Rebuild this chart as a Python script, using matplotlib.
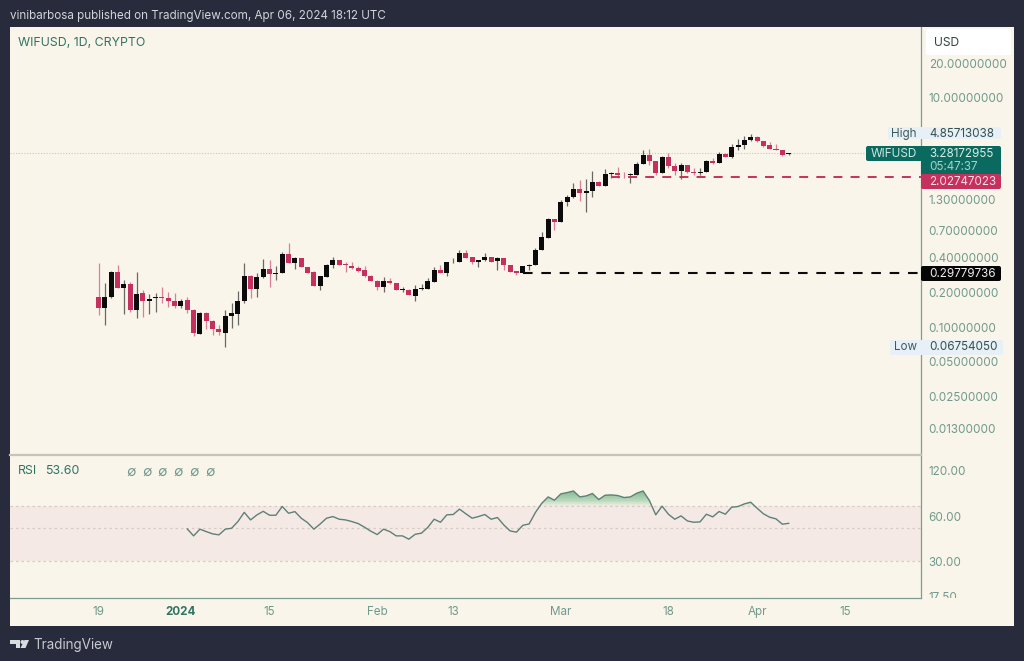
import matplotlib
matplotlib.use("Agg")
import matplotlib.pyplot as plt
import matplotlib.dates as mdates
from matplotlib.patches import Rectangle, Polygon, Circle, FancyBboxPatch
from matplotlib.transforms import Bbox, TransformedBbox
import numpy as np
import pandas as pd

W, H = 1024, 661
plt.rcParams['font.family'] = ['Inter', 'DejaVu Sans']

first_day = "2023-12-19"
opens = [.184,.148,.182,.300,.221,.237,.142,.197,.169,.178,.182,.179,.169,
         .152,.172,.142,.0873,.133,.113,.0968,.0895,.126,.131,.170,.278,.214,.273,.318,.289,.293,.429,.364,.396,.334,.303,.228,.274,.346,.381,.352,.339,.33,.313,.281,
         .25,.224,.254,.24,.212,.212,.187,.216,.216,.248,.317,.293,.367,.367,.438,.407,.372,.383,.41,.375,.396,.346,.306,.293,.339,.346,.466,.601,.873,
         .827,1.22,1.37,1.59,1.46,1.54,1.84,1.70,2.16,2.19,2.13,2.10,2.13,2.66,3.16,2.81,2.19,3.03,2.54,2.31,2.59,2.26,2.22,2.26,2.81,2.68,3.24,3.03,3.72,3.85,4.24,
         4.56,4.20,3.85,3.58,3.50,3.20]
highs = [.359,.240,.310,.347,.257,.248,.300,.210,.194,.197,.225,.203,.197,
         .174,.181,.144,.136,.134,.115,.104,.142,.161,.207,.364,.284,.298,.389,.384,.340,.453,.542,.409,.396,.334,.31,.280,.352,.410,.385,.37,.37,.339,.339,.285,
         .256,.274,.265,.242,.224,.215,.232,.236,.265,.335,.346,.37,.396,.468,.468,.41,.383,.445,.41,.41,.396,.35,.31,.34,.358,.484,.678,.885,.88,
         1.28,1.43,1.79,1.91,1.95,2.30,1.86,2.39,2.26,2.50,2.26,2.2,2.73,3.49,3.56,2.83,3.11,3.26,2.68,2.68,2.60,2.42,2.45,2.86,2.95,3.33,3.26,3.98,4.35,4.65,4.857,
         4.60,4.22,4.12,3.98,3.52,3.30]
lows = [.127,.104,.178,.217,.130,.136,.119,.123,.130,.136,.163,.151,.148,
        .148,.133,.0835,.0865,.097,.0853,.0853,.0675,.099,.104,.163,.178,.184,.265,.225,.257,.293,.359,.318,.334,.293,.228,.210,.272,.324,.346,.303,.32,.303,.274,.25,
        .21,.203,.237,.21,.203,.189,.170,.21,.216,.248,.293,.277,.36,.367,.396,.353,.335,.38,.372,.313,.317,.303,.283,.293,.313,.346,.466,.60,.70,
        .82,1.13,1.34,1.26,1.01,1.37,1.68,1.68,2.0,2.0,2.0,1.79,2.13,2.66,2.59,2.10,2.19,2.45,2.10,1.95,2.19,2.10,2.10,2.26,2.66,2.68,3.02,3.0,3.52,3.60,4.18,
        4.12,3.70,3.55,3.47,3.11,3.16]
closes = [.148,.184,.300,.221,.237,.141,.194,.169,.177,.182,.179,.168,.152,
          .170,.142,.0884,.132,.113,.0968,.0906,.126,.132,.170,.278,.214,.275,.318,.289,.293,.429,.359,.396,.334,.298,.228,.277,.348,.383,.346,.346,.324,.309,.278,.25,
          .224,.254,.24,.21,.214,.189,.216,.219,.25,.317,.293,.367,.37,.438,.402,.367,.383,.41,.372,.396,.344,.303,.293,.339,.348,.468,.606,.872,.816,
          1.22,1.37,1.59,1.46,1.54,1.84,1.69,2.16,2.19,2.10,2.10,2.16,2.66,3.15,2.81,2.19,3.03,2.54,2.31,2.59,2.26,2.22,2.26,2.81,2.68,3.24,3.03,3.70,3.88,4.26,4.56,
          4.18,3.82,3.58,3.49,3.18,3.28]
rsi_first_day = "2024-01-02"
rsi_values = [49.2,44.2,49.0,47.2,45.6,44.9,49.0,49.7,55.1,63.5,56.5,61.0,64.5,60.7,60.7,69.5,62.6,64.2,58.0,54.2,49.0,53.1,58.0,59.5,57.1,56.5,55.1,53.4,50.5,47.5,
              45.1,49.0,47.2,44.2,44.2,42.0,45.3,46.1,50.4,57.1,54.5,61.1,61.4,66.7,62.1,58.0,59.5,61.4,57.1,58.6,52.3,47.7,46.8,52.0,53.1,63.4,73.0,80.5,76.5,
              84.3,86.0,88.2,80.5,81.7,84.8,77.3,82.6,83.0,82.2,79.7,80.5,85.2,88.2,76.1,61.1,69.8,61.7,57.1,60.1,55.6,54.5,54.8,61.7,59.2,64.3,61.7,68.7,69.4,72.3,74.2,
              67.7,62.1,58.9,57.4,52.9,53.6]
price_ticks = [20, 10, 1.3, 0.7, 0.4, 0.2, 0.1, 0.05, 0.025, 0.013]
rsi_ticks = [120, 60, 30, 17.5]
rsi_tick_labels = ["120.00", "60.00", "30.00", "17.50"]
time_ticks = ["2023-12-19","2024-01-01","2024-01-15","2024-02-01","2024-02-13","2024-03-01","2024-03-18","2024-04-01","2024-04-15"]
time_labels = ["19","2024","15","Feb","13","Mar","18","Apr","15"]
last_price = 3.28172955
red_level = 2.02747023
black_level = 0.29779736
red_level_start = "2024-03-09"
black_level_start = "2024-02-24"

DARK = '#272b3b'; PANEL = '#faf5ea'; RED = '#c6305e'; BLACK = '#0b0b0b'
TEAL = '#0b6a5f'; TICK = '#6f9a8c'; LINE = '#7d9d90'; TXT = '#2f7364'; RSI_C = '#5e8078'
FS = 8.4

fig = plt.figure(figsize=(W/100, H/100), dpi=100, facecolor=DARK)
def rect_ax(l, t, r, b):
    return fig.add_axes([l/W, 1-b/H, (r-l)/W, (b-t)/H])

# pixel-space layers for the chart chrome
bg = rect_ax(0, 0, W, H); bg.set_xlim(0, W); bg.set_ylim(H, 0); bg.axis('off')
bg.add_patch(Rectangle((10, 27), 1004, 599, fc=PANEL, ec='none'))

dates = pd.date_range(first_day, periods=len(opens))
x = mdates.date2num(dates)
jan1 = mdates.date2num(pd.Timestamp("2024-01-01"))
xlim = (jan1 - 27.0, jan1 + 116.9)

ax = rect_ax(10, 27, 921, 455)
ax.patch.set_alpha(0)
ax.set_yscale('log')
ax.set_xlim(*xlim); ax.set_ylim(0.00766, 41.3)
o, h, l, c = map(np.array, (opens, highs, lows, closes))
cols = [BLACK if cc >= oo else RED for oo, cc in zip(o, c)]
ax.axhline(last_price, color='#c9c8bd', lw=0.8, ls=(0, (1, 1.5)), zorder=1)
ax.vlines(x, l, h, colors=cols, lw=0.9, alpha=0.6, zorder=2)
ax.bar(x, np.maximum(np.abs(c-o), 0.012*o), bottom=np.minimum(o, c), width=0.8, color=cols, lw=0, zorder=3)
dash = (0, (4.6, 4.2))
ax.plot([mdates.date2num(pd.Timestamp(red_level_start)), xlim[1]], [red_level]*2, color=RED, lw=1.4, ls=dash, zorder=2)
ax.plot([mdates.date2num(pd.Timestamp(black_level_start)), xlim[1]], [black_level]*2, color=BLACK, lw=1.5, ls=dash, zorder=2)
ax.set_xticks([])
ax.minorticks_off()
ax.yaxis.tick_right()
ax.set_yticks(price_ticks)
ax.set_yticklabels([f"{t:.8f}" for t in price_ticks], fontsize=FS, color=TICK)
ax.tick_params(axis='y', which='both', length=0, pad=5.5)
ax.yaxis.set_minor_locator(matplotlib.ticker.NullLocator())
for s in ('left', 'top'): ax.spines[s].set_visible(False)
ax.spines['right'].set_color(LINE); ax.spines['right'].set_linewidth(0.9)
ax.spines['bottom'].set_color('#c7c4b8'); ax.spines['bottom'].set_linewidth(1.6)

rx = rect_ax(10, 456, 921, 598)
rx.patch.set_alpha(0)
rx.set_yscale('log')
rx.set_xlim(*xlim); rx.set_ylim(17.0, 151)
rd = mdates.date2num(pd.date_range(rsi_first_day, periods=len(rsi_values)))
rv = np.array(rsi_values)
rx.axhspan(30, 70, color='#f5e9e5', lw=0, zorder=1)
for lvl in (70, 50, 30):
    rx.axhline(lvl, color='#d6ccc4', lw=0.9, ls=(0, (2, 2.4)), zorder=2)
for lvl in np.linspace(70, 86, 9):
    rx.fill_between(rd, lvl, rv, where=rv > lvl, interpolate=True, color='#4fa56f', alpha=0.11, lw=0, zorder=3)
rx.plot(rd, rv, color=RSI_C, lw=1.0, zorder=4)
rx.minorticks_off()
rx.yaxis.tick_right()
rx.set_yticks(rsi_ticks); rx.set_yticklabels(rsi_tick_labels, fontsize=FS, color=TICK)
rx.yaxis.set_minor_locator(matplotlib.ticker.NullLocator())
rx.tick_params(axis='y', which='both', length=0, pad=5.5)
clip = TransformedBbox(Bbox([[1, 0], [1.2, 1]]), rx.transAxes)
for lab in rx.get_yticklabels():
    lab.set_clip_on(True); lab.set_clip_box(clip)
rx.set_xticks(mdates.date2num(pd.to_datetime(time_ticks)))
rx.set_xticklabels(time_labels, fontsize=FS, color=TICK)
rx.tick_params(axis='x', length=0, pad=6)
for lab in rx.get_xticklabels():
    if lab.get_text() == "2024":
        lab.set_fontweight('bold'); lab.set_color(TXT)
for s in ('left', 'top'): rx.spines[s].set_visible(False)
rx.spines['right'].set_color(LINE); rx.spines['right'].set_linewidth(0.9)
rx.spines['bottom'].set_color(LINE); rx.spines['bottom'].set_linewidth(0.9)

# overlay: header texts and price labels
ov = rect_ax(0, 0, W, H); ov.set_xlim(0, W); ov.set_ylim(H, 0); ov.axis('off'); ov.patch.set_alpha(0)
def T(px, py, s, color, size=FS, ha='left', **kw):
    ov.text(px, py, s, color=color, fontsize=size, ha=ha, va='center', **kw)
def box(x0, y0, x1, y1, fc):
    ov.add_patch(FancyBboxPatch((x0+1.5, y0+1.5), x1-x0-3, y1-y0-3, boxstyle="round,pad=1.5,rounding_size=2", fc=fc, ec='none'))

T(10, 15.5, "vinibarbosa published on TradingView.com, Apr 06, 2024 18:12 UTC", '#d3d5da', 8.4)
T(18, 42.5, "WIFUSD, 1D, CRYPTO", TXT, 8.9)
T(18, 471.5, "RSI", TXT, 8.9)
T(45, 471.5, "53.60", TXT, 8.9)
for px in (131, 147, 162, 178, 194, 210):
    T(px, 472, "∅", TICK, 10, ha='center')

box(926, 29, 1011, 55, '#ffffff')
T(934, 42.5, "USD", '#33433f', 8.7)
box(888, 127, 1001, 139, '#e6f0f6')
T(891, 133.5, "High", '#3d5a5d', 8.4)
T(929, 134, "4.85713038", '#34514c')
box(866, 146, 925, 161, TEAL)
T(871, 154, "WIFUSD", '#cfe6df', 8.5)
box(921, 146, 1001, 176, TEAL)
T(929, 154, "3.28172955", '#d9ece6')
T(929, 166.5, "05:47:37", '#a9d0c6')
box(921, 174, 1001, 189, RED)
T(929, 182, "2.02747023", '#f7dfe6')
box(921, 266, 1001, 281, '#050505')
T(929, 274, "0.29779736", '#efefef')
box(890, 340, 1003, 355, '#e6f0f6')
T(894, 347.5, "Low", '#3d5a5d', 8.4)
T(929, 347.5, "0.06754050", '#34514c')

# TradingView mark
lc = '#d9dbe0'
ov.add_patch(Polygon([(10,640),(20,640),(20,648),(15.5,648),(15.5,644),(10,644)], fc=lc, ec='none'))
ov.add_patch(Circle((22.5,642), 2, fc=lc, ec='none'))
ov.add_patch(Polygon([(24.5,640),(29,640),(25.5,648),(20.5,648)], fc=lc, ec='none'))
T(33, 645, "TradingView", '#c7cad1', 9.7)

fig.savefig("out.png", dpi=100, facecolor=DARK)
